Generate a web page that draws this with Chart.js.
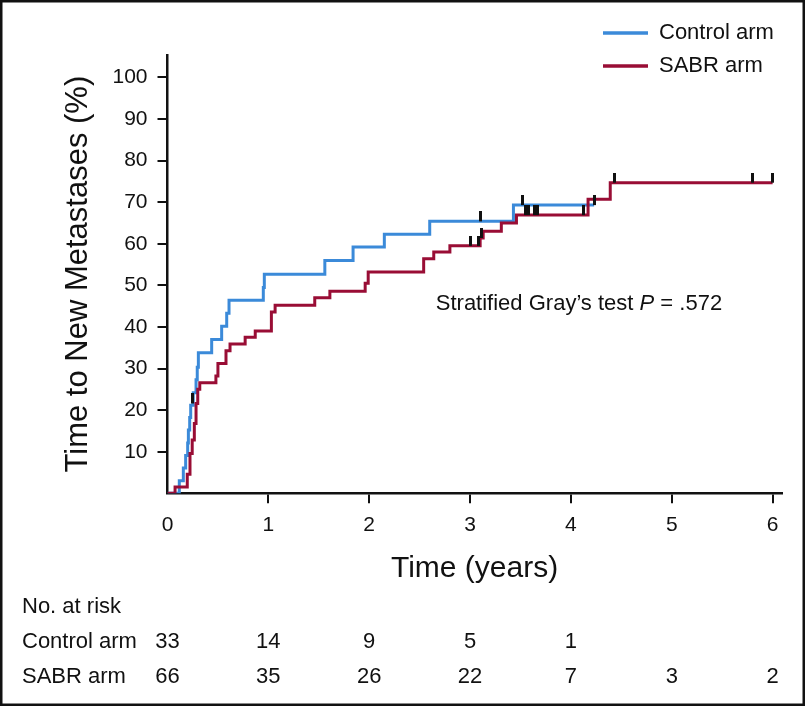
<!DOCTYPE html>
<html>
<head>
<meta charset="utf-8">
<script src="https://cdn.jsdelivr.net/npm/chart.js@4.4.1/dist/chart.umd.min.js"></script>
<style>
  html, body { margin: 0; padding: 0; background: #fff; }
  canvas { display: block; }
</style>
</head>
<body>
<canvas id="cif" width="805" height="706"></canvas>
<script>
/* --- data --- */
const YEARS = [0, 1, 2, 3, 4, 5, 6];
const Y_TICKS = [10, 20, 30, 40, 50, 60, 70, 80, 90, 100];

// cumulative incidence steps (time in years, % with new metastases)
const CONTROL_T   = [0, 0.117, 0.157, 0.18, 0.20, 0.207, 0.22, 0.23, 0.255, 0.283, 0.295, 0.306, 0.438, 0.537, 0.587, 0.61, 0.95, 0.96, 1.56, 1.84, 2.15, 2.60, 3.43, 4.23];
const CONTROL_PCT = [0, 3.0, 6.1, 9.1, 12.1, 15.2, 18.2, 21.2, 24.2, 27.3, 30.3, 33.8, 37.0, 40.2, 43.3, 46.4, 49.5, 52.7, 56.0, 59.2, 62.3, 65.4, 69.3, 69.3];

const SABR_T   = [0, 0.075, 0.196, 0.223, 0.245, 0.266, 0.283, 0.30, 0.32, 0.48, 0.50, 0.58, 0.62, 0.77, 0.87, 1.03, 1.067, 1.46, 1.61, 1.96, 1.99, 2.54, 2.64, 2.80, 3.10, 3.13, 3.31, 3.46, 4.17, 4.39, 6.0];
const SABR_PCT = [0, 1.5, 4.6, 9.6, 12.8, 16.8, 21.6, 25.0, 26.6, 28.2, 31.2, 34.3, 35.9, 37.5, 39.0, 43.6, 45.2, 47.0, 48.6, 50.5, 53.2, 56.4, 58.0, 59.5, 61.4, 63.0, 65.0, 66.9, 70.7, 74.7, 74.7];

// censored observations
const CONTROL_CENS_T   = [0.245, 3.10, 3.52, 4.23];
const CONTROL_CENS_PCT = [21.6, 65.4, 69.3, 69.3];
const SABR_CENS_T   = [3.00, 3.08, 3.11, 3.55, 3.58, 3.64, 3.67, 4.12, 4.43, 5.80, 6.0];
const SABR_CENS_PCT = [59.5, 59.5, 61.4, 66.9, 66.9, 66.9, 66.9, 66.9, 74.7, 74.7, 74.7];

// number at risk at each year
const RISK_CONTROL = [33, 14, 9, 5, 1];
const RISK_SABR    = [66, 35, 26, 22, 7, 3, 2];

const BLUE = '#3b8ad9';
const RED = '#990d35';
const INK = '#111';
const FONT = "'Liberation Sans', Arial, Helvetica, sans-serif";

Chart.defaults.font.family = FONT;
Chart.defaults.color = INK;

const toPoints = (ts, ps) => ts.map((t, i) => ({ x: t, y: ps[i] }));

// censor tick: vertical dash rising from the curve
function censorMark() {
  const c = document.createElement('canvas');
  c.width = 3;
  c.height = 20;
  const g = c.getContext('2d');
  g.fillStyle = INK;
  g.fillRect(0, 0, 3, 10);
  return c;
}
const TICK = censorMark();

const overlay = {
  id: 'overlay',
  afterDraw(chart) {
    const { ctx, scales: { x, y } } = chart;
    ctx.save();
    ctx.fillStyle = INK;

    // legend
    const items = [['Control arm', BLUE, 33], ['SABR arm', RED, 66]];
    ctx.font = `22px ${FONT}`;
    ctx.textBaseline = 'middle';
    ctx.textAlign = 'left';
    items.forEach(([label, color, yy]) => {
      ctx.strokeStyle = color;
      ctx.lineWidth = 3.5;
      ctx.beginPath();
      ctx.moveTo(603, yy);
      ctx.lineTo(648, yy);
      ctx.stroke();
      ctx.fillText(label, 659, yy);
    });

    // test annotation
    let ax = x.getPixelForValue(2.66);
    const ay = y.getPixelForValue(44);
    ctx.textBaseline = 'alphabetic';
    const parts = [['Stratified Gray\u2019s test ', ''], ['P', 'italic '], [' = .572', '']];
    parts.forEach(([txt, style]) => {
      ctx.font = `${style}22px ${FONT}`;
      ctx.fillText(txt, ax, ay);
      ax += ctx.measureText(txt).width;
    });

    // number at risk table
    ctx.font = `22px ${FONT}`;
    ctx.textBaseline = 'middle';
    ctx.fillText('No. at risk', 22, 607);
    ctx.fillText('Control arm', 22, 642);
    ctx.fillText('SABR arm', 22, 677);
    ctx.textAlign = 'center';
    RISK_CONTROL.forEach((n, i) => ctx.fillText(String(n), x.getPixelForValue(YEARS[i]), 642));
    RISK_SABR.forEach((n, i) => ctx.fillText(String(n), x.getPixelForValue(YEARS[i]), 677));

    // frame around the figure
    ctx.strokeStyle = INK;
    ctx.lineWidth = 2.5;
    ctx.strokeRect(1.25, 1.25, chart.width - 2.5, chart.height - 2.5);
    ctx.restore();
  }
};

new Chart(document.getElementById('cif'), {
  type: 'line',
  data: {
    datasets: [
      {
        label: 'Control censored',
        data: toPoints(CONTROL_CENS_T, CONTROL_CENS_PCT),
        showLine: false,
        pointStyle: TICK,
        pointRadius: 5,
        order: 0
      },
      {
        label: 'SABR censored',
        data: toPoints(SABR_CENS_T, SABR_CENS_PCT),
        showLine: false,
        pointStyle: TICK,
        pointRadius: 5,
        order: 0
      },
      {
        label: 'SABR arm',
        data: toPoints(SABR_T, SABR_PCT),
        stepped: true,
        borderColor: RED,
        borderWidth: 3,
        pointRadius: 0,
        fill: false,
        order: 1
      },
      {
        label: 'Control arm',
        data: toPoints(CONTROL_T, CONTROL_PCT),
        stepped: true,
        borderColor: BLUE,
        borderWidth: 3,
        pointRadius: 0,
        fill: false,
        order: 2
      }
    ]
  },
  options: {
    responsive: false,
    animation: false,
    events: [],
    layout: { padding: { top: 55, right: 23.3, bottom: 116, left: 0 } },
    plugins: {
      legend: { display: false },
      tooltip: { enabled: false }
    },
    scales: {
      x: {
        type: 'linear',
        min: 0,
        max: 6.09,
        afterBuildTicks: s => { s.ticks = YEARS.map(v => ({ value: v })); },
        afterFit: s => { s.height = 96.7; },
        grid: {
          drawOnChartArea: false,
          tickLength: 10,
          lineWidth: 2,
          color: c => (c.tick && c.tick.value === 0) ? 'rgba(0,0,0,0)' : INK
        },
        border: { color: INK, width: 2.5 },
        ticks: { font: { size: 21 }, color: INK, padding: 9, maxRotation: 0, autoSkip: false },
        title: {
          display: true,
          text: 'Time (years)',
          color: INK,
          font: { size: 30 },
          padding: { top: 0, bottom: 3 }
        }
      },
      y: {
        type: 'linear',
        min: 0,
        max: 105.4,
        afterBuildTicks: s => { s.ticks = Y_TICKS.map(v => ({ value: v })); },
        afterFit: s => { s.width = 167.5; },
        grid: { drawOnChartArea: false, tickLength: 10, lineWidth: 2, color: INK },
        border: { color: INK, width: 2.5 },
        ticks: { font: { size: 21 }, color: INK, padding: 10 },
        title: {
          display: true,
          text: 'Time to New Metastases (%)',
          color: INK,
          font: { size: 31 },
          padding: { top: 60, bottom: 0 }
        }
      }
    }
  },
  plugins: [overlay]
});
</script>
</body>
</html>
